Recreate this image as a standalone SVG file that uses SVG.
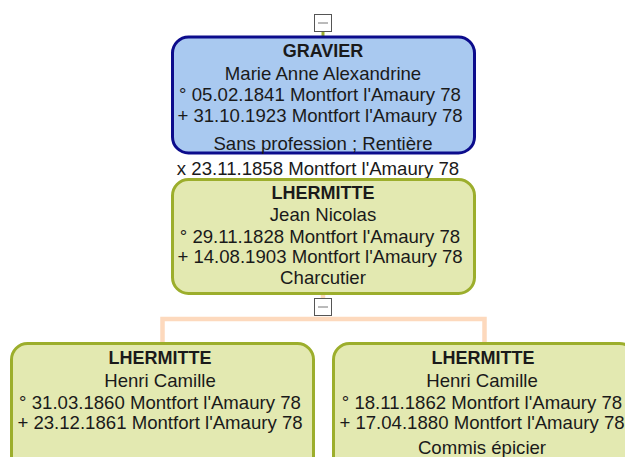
<svg xmlns="http://www.w3.org/2000/svg" width="625" height="457" viewBox="0 0 625 457">
<style>
text{font-family:"Liberation Sans",Arial,sans-serif;font-size:18.6px;fill:#1a1a1a;text-anchor:middle}
.b{font-weight:bold;font-size:18px}
.blue{fill:#a9c9f0;stroke:#0c0c8c;stroke-width:3}
.green{fill:#e3e9b1;stroke:#9cae2c;stroke-width:3}
.peach{stroke:#fdd9bd;stroke-width:4.5;fill:none}
.tog{fill:#fff;stroke:#555;stroke-width:1}
.tl{stroke:#777;stroke-width:1}
</style>
<rect width="625" height="457" fill="#fff"/>
<g id="connectors">
<line x1="323" y1="32" x2="323" y2="37" stroke="#9cae2c" stroke-width="3"/>
<line x1="323" y1="294" x2="323" y2="299" class="peach"/>
<polyline class="peach" points="162.5,343 162.5,319 484.5,319 484.5,343"/>
</g>
<g id="toggle1"><rect class="tog" x="314.5" y="14.5" width="17" height="17"/><line class="tl" x1="318" y1="23" x2="328" y2="23"/></g>
<g id="toggle2"><rect class="tog" x="314.5" y="298.5" width="17" height="17"/><line class="tl" x1="318" y1="307" x2="328" y2="307"/></g>
<g id="gravier">
<rect class="blue" x="172.5" y="37" width="302" height="116" rx="16"/>
<text class="b" x="323" y="57">GRAVIER</text>
<text x="323" y="80">Marie Anne Alexandrine</text>
<text x="320" y="101">° 05.02.1841 Montfort l'Amaury 78</text>
<text x="320" y="122">+ 31.10.1923 Montfort l'Amaury 78</text>
<text x="323" y="150">Sans profession ; Rentière</text>
</g>
<text id="marriage" x="318" y="175">x 23.11.1858 Montfort l'Amaury 78</text>
<g id="jean">
<rect class="green" x="172.5" y="179.5" width="302" height="114" rx="16"/>
<text class="b" x="323" y="199">LHERMITTE</text>
<text x="323" y="221">Jean Nicolas</text>
<text x="320" y="243">° 29.11.1828 Montfort l'Amaury 78</text>
<text x="320" y="263">+ 14.08.1903 Montfort l'Amaury 78</text>
<text x="323" y="284">Charcutier</text>
</g>
<g id="henri1">
<rect class="green" x="11.5" y="343.5" width="302" height="130" rx="16"/>
<text class="b" x="160" y="364">LHERMITTE</text>
<text x="160" y="387">Henri Camille</text>
<text x="160" y="409">° 31.03.1860 Montfort l'Amaury 78</text>
<text x="160" y="429">+ 23.12.1861 Montfort l'Amaury 78</text>
</g>
<g id="henri2">
<rect class="green" x="333.5" y="343.5" width="302" height="130" rx="16"/>
<text class="b" x="483" y="364">LHERMITTE</text>
<text x="482" y="387">Henri Camille</text>
<text x="482" y="409">° 18.11.1862 Montfort l'Amaury 78</text>
<text x="482" y="429">+ 17.04.1880 Montfort l'Amaury 78</text>
<text x="482" y="454">Commis épicier</text>
</g>
</svg>
